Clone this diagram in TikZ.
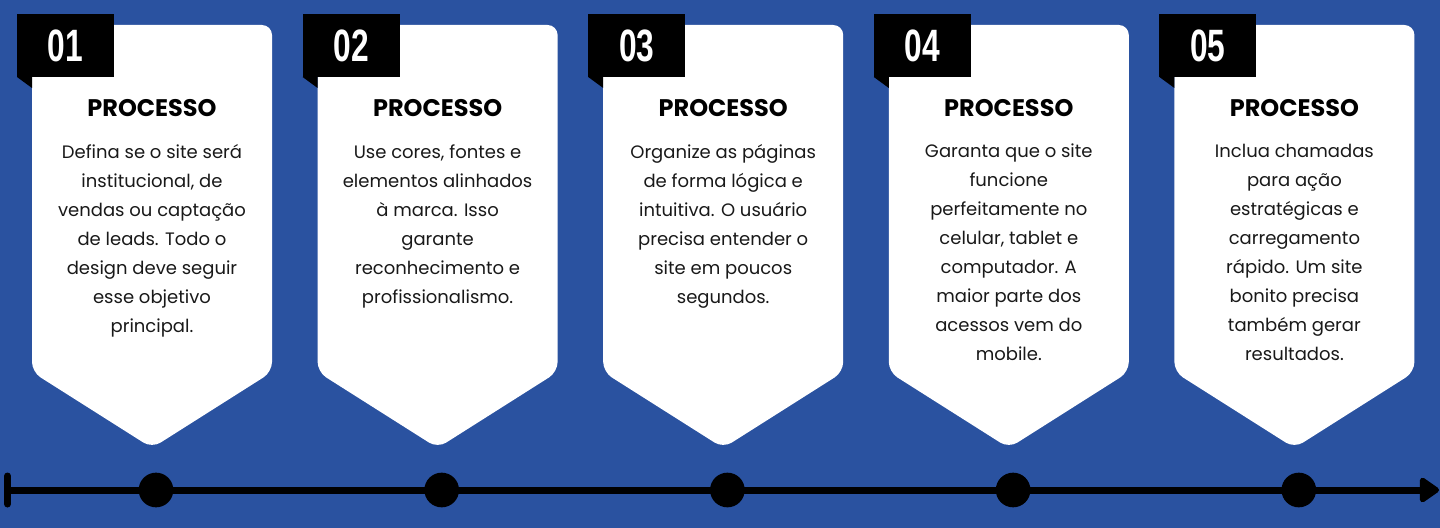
\documentclass[tikz,border=0pt]{standalone}
\usepackage{fontspec}
\setmainfont{Poppins}
\newfontfamily\numfont[FakeStretch=0.7]{Liberation Sans}
\usetikzlibrary{positioning,arrows.meta}
\definecolor{bgblue}{RGB}{42,82,160}

\begin{document}
\begin{tikzpicture}[x=0.75pt,y=-0.75pt,
    card/.style={fill=white,rounded corners=7.5pt},
    tab/.style={fill=black},
    num/.style={text=white,font=\numfont\bfseries\fontsize{34}{34}\selectfont,anchor=base,inner sep=0},
    head/.style={font=\bfseries\fontsize{18}{18}\selectfont,anchor=base,inner sep=0},
    body/.style={font=\fontsize{13.5}{21.75}\selectfont,align=center,anchor=north,inner sep=0,text=black!90},
    dot/.style={circle,fill=black,minimum size=26pt,inner sep=0},
    tline/.style={line width=5.25pt,{Bar[width=21pt,round]}-{Triangle[round,length=16pt,width=21pt]}}
  ]
    \fill[bgblue] (0,0) rectangle (1440,528);
    \useasboundingbox (0,0) rectangle (1440,528);
    % cards
    \foreach \i/\txt in {
      1/{Defina se o site será\\institucional, de\\vendas ou captação\\de leads. Todo o\\design deve seguir\\esse objetivo\\principal.},
      2/{Use cores, fontes e\\elementos alinhados\\à marca. Isso\\garante\\reconhecimento e\\profissionalismo.},
      3/{Organize as páginas\\de forma lógica e\\intuitiva. O usuário\\precisa entender o\\site em poucos\\segundos.},
      4/{Garanta que o site\\funcione\\perfeitamente no\\celular, tablet e\\computador. A\\maior parte dos\\acessos vem do\\mobile.},
      5/{Inclua chamadas\\para ação\\estratégicas e\\carregamento\\rápido. Um site\\bonito precisa\\também gerar\\resultados.}}{
      \pgfmathsetmacro\L{32+285.6*(\i-1)}
      \fill[card] (\L,372) -- (\L,25) -- (\L+240,25) -- (\L+240,372) -- (\L+120,448) -- cycle;
      \fill[tab] (\L-15,14) rectangle (\L+82,77);
      \fill[tab] (\L-15,77) -- (\L,77) -- (\L,88) -- cycle;
      \node[num] (n\i) at (\L+33.5,62) {0\i};
      \node[head] (p\i) at (\L+120,117) {PROCESSO};
      \node[body] (b\i) at (\L+120,144) {\txt};
    }
    % timeline
    \coordinate (tstart) at (4,490);
    \coordinate (tend) at (1439,490);
    \draw[tline] (tstart) -- (tend);
    \foreach \i in {1,...,5}{
      \node[dot] (d\i) at (156+285.7*\i-285.7,490) {};
    }
  \end{tikzpicture}
\end{document}
